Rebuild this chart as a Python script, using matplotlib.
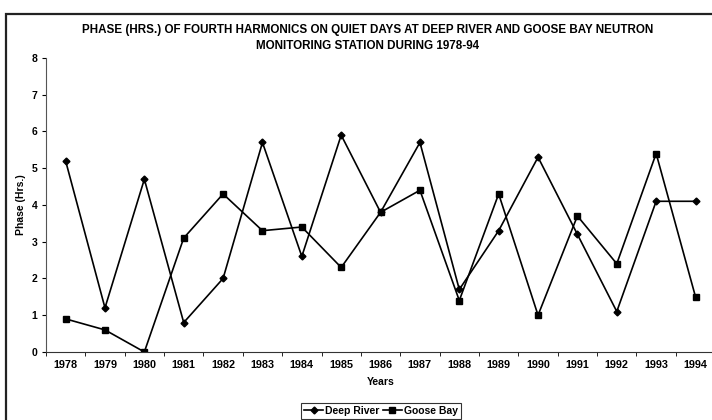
import matplotlib
matplotlib.use("Agg")
import matplotlib.pyplot as plt
from matplotlib.patches import Rectangle

years = [str(y) for y in range(1978, 1995)]
deep_river = [5.2, 1.2, 4.7, 0.8, 2.0, 5.7, 2.6, 5.9, 3.8, 5.7, 1.7, 3.3, 5.3, 3.2, 1.1, 4.1, 4.1]
goose_bay = [0.9, 0.6, 0.0, 3.1, 4.3, 3.3, 3.4, 2.3, 3.8, 4.4, 1.4, 4.3, 1.0, 3.7, 2.4, 5.4, 1.5]
y_ticks = list(range(0, 9))

plt.rcParams['font.family'] = ['Liberation Sans', 'DejaVu Sans']
plt.rcParams['font.weight'] = 'bold'

fig = plt.figure(figsize=(7.12, 4.2), dpi=100)
fig.patch.set_facecolor('white')
fig.patches.append(Rectangle((6/712, -0.1), 1.2, 1 - 14/420 + 0.1, transform=fig.transFigure,
                             fill=False, edgecolor='#222222', linewidth=1.6))

ax = fig.add_axes([0.0645, 0.162, 0.94, 0.700])
x = list(range(len(years)))
ax.plot(x, deep_river, color='black', linewidth=1.2, marker='D', markersize=3.5, label='Deep River')
ax.plot(x, goose_bay, color='black', linewidth=1.2, marker='s', markersize=4, label='Goose Bay')

ax.set_xlim(-0.5, len(years) - 0.5)
ax.set_ylim(0, 8)
ax.set_yticks(y_ticks)
ax.set_yticklabels([str(v) for v in y_ticks], fontsize=7.5, fontweight='bold')
ax.set_xticks(x)
ax.set_xticklabels(years, fontsize=7.8, fontweight='bold')
ax.tick_params(axis='x', which='major', length=0, pad=6)
ax.set_xticks([i - 0.5 for i in range(len(years) + 1)], minor=True)
ax.tick_params(axis='x', which='minor', length=3, direction='out')
ax.tick_params(axis='y', length=3, direction='out', pad=3)
for s in ['top', 'right']:
    ax.spines[s].set_visible(False)
ax.spines['left'].set_color('#555555')
ax.spines['bottom'].set_color('#333333')

ax.set_xlabel('Years', fontsize=7.5, fontweight='bold', labelpad=5)
ax.set_ylabel('Phase (Hrs.)', fontsize=7.5, fontweight='bold', labelpad=4)

fig.text(0.516, 1 - 30/420, 'PHASE (HRS.) OF FOURTH HARMONICS ON QUIET DAYS AT DEEP RIVER AND GOOSE BAY NEUTRON',
         ha='center', va='center', fontsize=8.4, fontweight='bold')
fig.text(0.516, 1 - 46/420, 'MONITORING STATION DURING 1978-94',
         ha='center', va='center', fontsize=8.4, fontweight='bold')

leg = fig.legend(loc='center', bbox_to_anchor=(381/712, 1 - 411/420), ncol=2, fontsize=7.5,
                 frameon=True, fancybox=False, edgecolor='black', handlelength=1.8,
                 handletextpad=0.2, columnspacing=0.3, borderpad=0.3, borderaxespad=0)
leg.get_frame().set_linewidth(0.8)

fig.savefig('out.png', dpi=100)
